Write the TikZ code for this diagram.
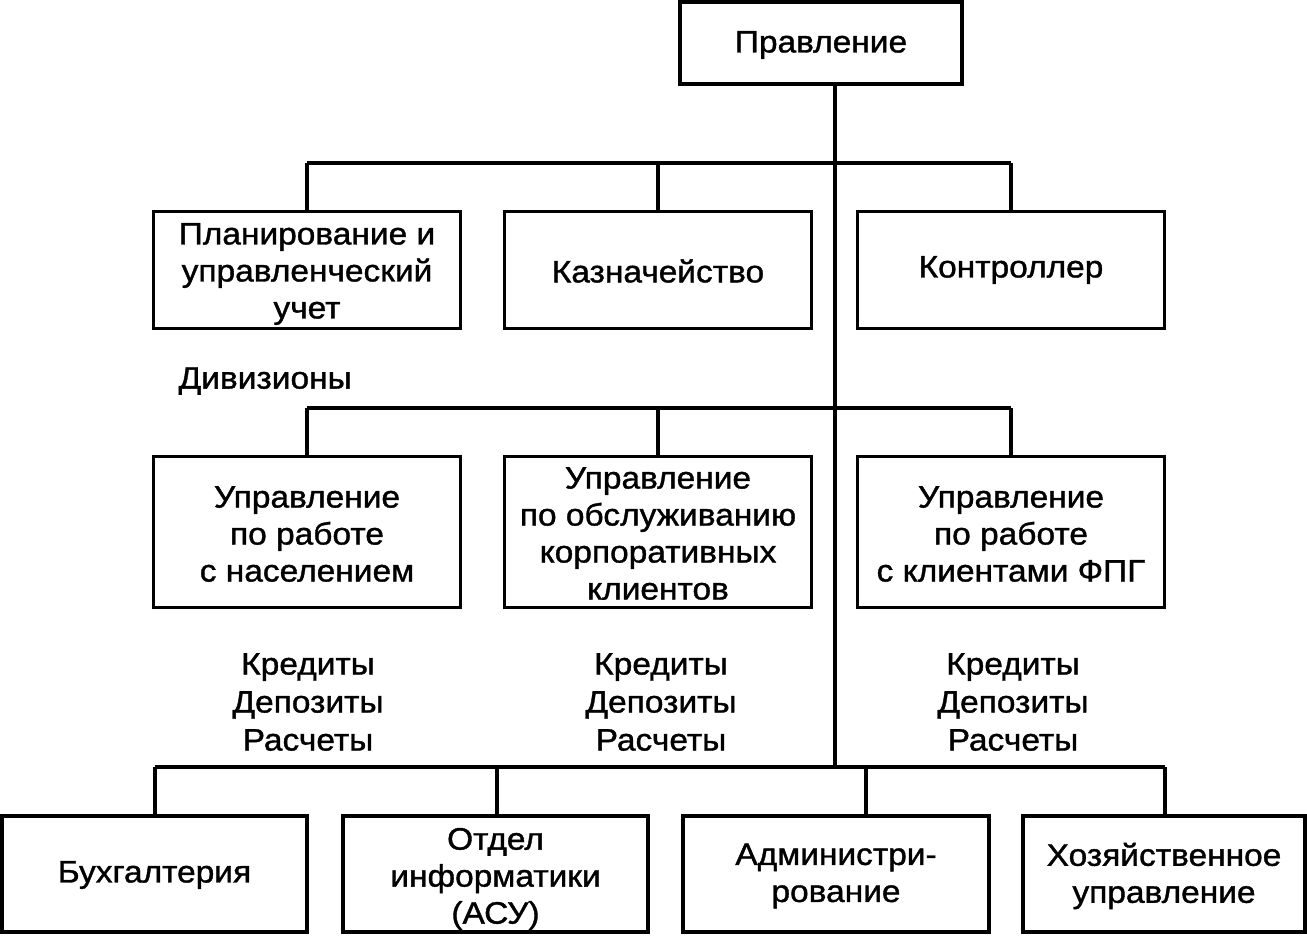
\documentclass[tikz,border=0pt]{standalone}
\usepackage{fontspec}
\setmainfont{Liberation Sans}[FakeStretch=1.08,FakeBold=1.2]
\begin{document}
\begin{tikzpicture}[x=1pt,y=-1pt,line width=3.2pt,
  every node/.style={font=\fontsize{31}{37}\selectfont},
  box/.style 2 args={draw,line width=3.2pt,inner sep=0pt,minimum width=#1,minimum height=#2},
  txt/.style={align=center,inner sep=0pt},
  lbl/.style={align=center,inner sep=0pt,font=\fontsize{31}{38}\selectfont}]
\fill[white] (0,0) rectangle (1307,935);
\useasboundingbox (0,0) rectangle (1307,935);
% top
\node[box={282}{82}] (pravl) at (821,43) {};
\node[txt] (tpravl) at ([yshift=-2pt]pravl.center) {Правление};
% row 2
\node[box={307}{117}] (plan) at (307,270) {};
\node[txt] (tplan) at ([yshift=-4pt]plan.center) {Планирование и\\управленческий\\учет};
\node[box={307}{117}] (kazn) at (658,270) {};
\node[txt] (tkazn) at ([yshift=-1pt]kazn.center) {Казначейство};
\node[box={307}{117}] (kontr) at (1011,270) {};
\node[txt] (tkontr) at (kontr.center) {Контроллер};
% divisions label
\node[anchor=west,inner sep=0pt] (div) at (177,381) {Дивизионы};
% row 3
\node[box={307}{151}] (nasel) at (307,532) {};
\node[txt] (tnasel) at ([yshift=-2pt]nasel.center) {Управление\\по работе\\с населением};
\node[box={307}{151}] (korp) at (658,532) {};
\node[txt] (tkorp) at ([yshift=-1.5pt]korp.center) {Управление\\по обслуживанию\\корпоративных\\клиентов};
\node[box={307}{151}] (fpg) at (1011,532) {};
\node[txt] (tfpg) at ([yshift=-2pt]fpg.center) {Управление\\по работе\\с клиентами ФПГ};
% service labels
\node[lbl] (s1) at (308,702) {Кредиты\\Депозиты\\Расчеты};
\node[lbl] (s2) at (661,702) {Кредиты\\Депозиты\\Расчеты};
\node[lbl] (s3) at (1013,702) {Кредиты\\Депозиты\\Расчеты};
% bottom row
\node[box={305}{116}] (buh) at (154.5,874) {};
\node[txt] (tbuh) at ([yshift=-1pt]buh.center) {Бухгалтерия};
\node[box={305}{116}] (otd) at (495.5,874) {};
\node[txt] (totd) at ([yshift=-5pt]otd.center) {Отдел\\информатики\\(АСУ)};
\node[box={306}{116}] (adm) at (836,874) {};
\node[txt] (tadm) at ([yshift=-2pt]adm.center) {Администри-\\рование};
\node[box={282}{116}] (hoz) at (1164,874) {};
\node[txt] (thoz) at ([yshift=-2pt]hoz.center) {Хозяйственное\\управление};
% coordinates
\coordinate (cx) at (835,0);
\coordinate (bus1) at (0,163);
\coordinate (bus2) at (0,408);
\coordinate (bus3) at (0,767);
\coordinate (d1) at (155,0);
\coordinate (d2) at (497,0);
\coordinate (d3) at (866,0);
\coordinate (d4) at (1165,0);
% main vertical
\draw (pravl.south -| cx) -- (cx |- bus3);
% bus 1
\draw (plan.north |- bus1) -- (kontr.north |- bus1);
\draw (plan.north |- bus1) -- (plan.north);
\draw (kazn.north |- bus1) -- (kazn.north);
\draw (kontr.north |- bus1) -- (kontr.north);
% bus 2
\draw (nasel.north |- bus2) -- (fpg.north |- bus2);
\draw (nasel.north |- bus2) -- (nasel.north);
\draw (korp.north |- bus2) -- (korp.north);
\draw (fpg.north |- bus2) -- (fpg.north);
% bus 3
\draw (d1 |- bus3) -- (d4 |- bus3);
\draw (d1 |- bus3) -- (d1 |- buh.north);
\draw (d2 |- bus3) -- (d2 |- otd.north);
\draw (d3 |- bus3) -- (d3 |- adm.north);
\draw (d4 |- bus3) -- (d4 |- hoz.north);
\end{tikzpicture}
\end{document}
